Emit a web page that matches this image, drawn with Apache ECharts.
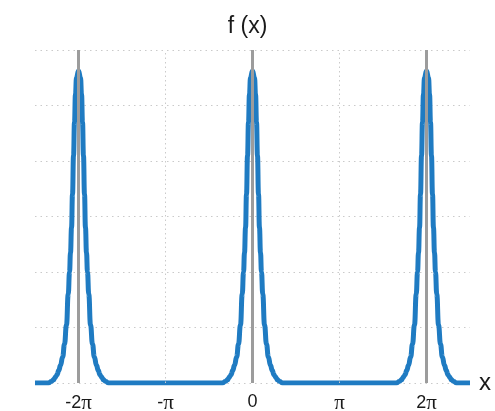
<!DOCTYPE html>
<html>
<head>
<meta charset="utf-8">
<style>
  html, body { margin: 0; padding: 0; background: #fff; }
  #chart { width: 495px; height: 411px; }
</style>
<script src="https://cdn.jsdelivr.net/npm/echarts@6/dist/echarts.min.js"></script>
</head>
<body>
<div id="chart"></div>
<script>
  // x in units of pi
  const xTickValues = [-2, -1, 0, 1, 2];
  const xTickLabels = ['-2π', '-π', '0', 'π', '2π'];
  const peakCenters = [-2, 0, 2];
  // one side of a peak (offset from centre, value)
  const profileOffsets = [0, 0.023, 0.035, 0.046, 0.057, 0.069, 0.08, 0.092, 0.103, 0.118, 0.138, 0.161, 0.182, 0.207, 0.226, 0.247, 0.264, 0.287, 0.31, 0.345];
  const profileValues = [5.62, 5.5, 5.2, 4.7, 4.1, 3.4, 2.8, 2.35, 2.0, 1.6, 1.05, 0.7, 0.47, 0.32, 0.23, 0.15, 0.11, 0.06, 0.03, 0];
  const grayLines = [-2, 0, 2];
  const dottedLines = [-1, 1];

  const curve = [[-2.5, 0]];
  peakCenters.forEach(function (c) {
    for (let i = profileOffsets.length - 1; i > 0; i--) {
      curve.push([c - profileOffsets[i], profileValues[i]]);
    }
    curve.push([c, profileValues[0]]);
    for (let i = 1; i < profileOffsets.length; i++) {
      curve.push([c + profileOffsets[i], profileValues[i]]);
    }
  });
  curve.push([2.5, 0]);

  const chart = echarts.init(document.getElementById('chart'));
  chart.setOption({
    animation: false,
    backgroundColor: '#fff',
    title: {
      text: 'f (x)',
      left: 'center',
      top: 10,
      textStyle: { fontFamily: 'Liberation Sans', fontSize: 23, fontWeight: 'normal', color: '#1a1a1a' }
    },
    grid: { left: 35, right: 25, top: 50, bottom: 28, containLabel: false, outerBoundsMode: 'none' },
    xAxis: {
      type: 'value',
      min: -2.5,
      max: 2.5,
      interval: 0.5,
      name: 'x',
      nameLocation: 'end',
      nameGap: 9,
      nameTextStyle: { fontFamily: 'Liberation Sans', fontSize: 24, color: '#1a1a1a', verticalAlign: 'middle', padding: [0, 0, 3, 0] },
      axisLine: { show: false },
      axisTick: { show: false },
      splitLine: { show: false },
      axisLabel: {
        margin: 10,
        fontFamily: 'Liberation Sans',
        fontSize: 18,
        color: '#1a1a1a',
        showMinLabel: false,
        showMaxLabel: false,
        formatter: function (v) {
          const i = xTickValues.indexOf(Math.round(v * 2) / 2);
          if (i < 0) return '';
          return xTickLabels[i].replace('π', '{p|π}');
        },
        rich: {
          p: { fontFamily: 'Liberation Serif', fontSize: 21, color: '#1a1a1a' }
        }
      }
    },
    yAxis: {
      type: 'value',
      min: 0,
      max: 6,
      interval: 1,
      axisLine: { show: false },
      axisTick: { show: false },
      axisLabel: { show: false },
      splitLine: { lineStyle: { color: '#cacaca', type: [1.5, 4], width: 1 } }
    },
    series: [
      {
        type: 'line',
        data: [[-2.5, 0]],
        showSymbol: false,
        silent: true,
        lineStyle: { opacity: 0 },
        z: 1,
        markLine: {
          silent: true,
          symbol: 'none',
          label: { show: false },
          data: dottedLines.map(function (v) {
            return { xAxis: v, lineStyle: { color: '#cacaca', type: [1.5, 3], width: 1 } };
          }).concat(grayLines.map(function (v) {
            return { xAxis: v, lineStyle: { color: '#9c9c9c', type: 'solid', width: 3 } };
          }))
        }
      },
      {
        type: 'line',
        data: curve,
        showSymbol: false,
        smooth: 0.5,
        smoothMonotone: 'x',
        lineStyle: { color: '#1f7bc2', width: 5 },
        z: 3
      }
    ]
  });
</script>
</body>
</html>
